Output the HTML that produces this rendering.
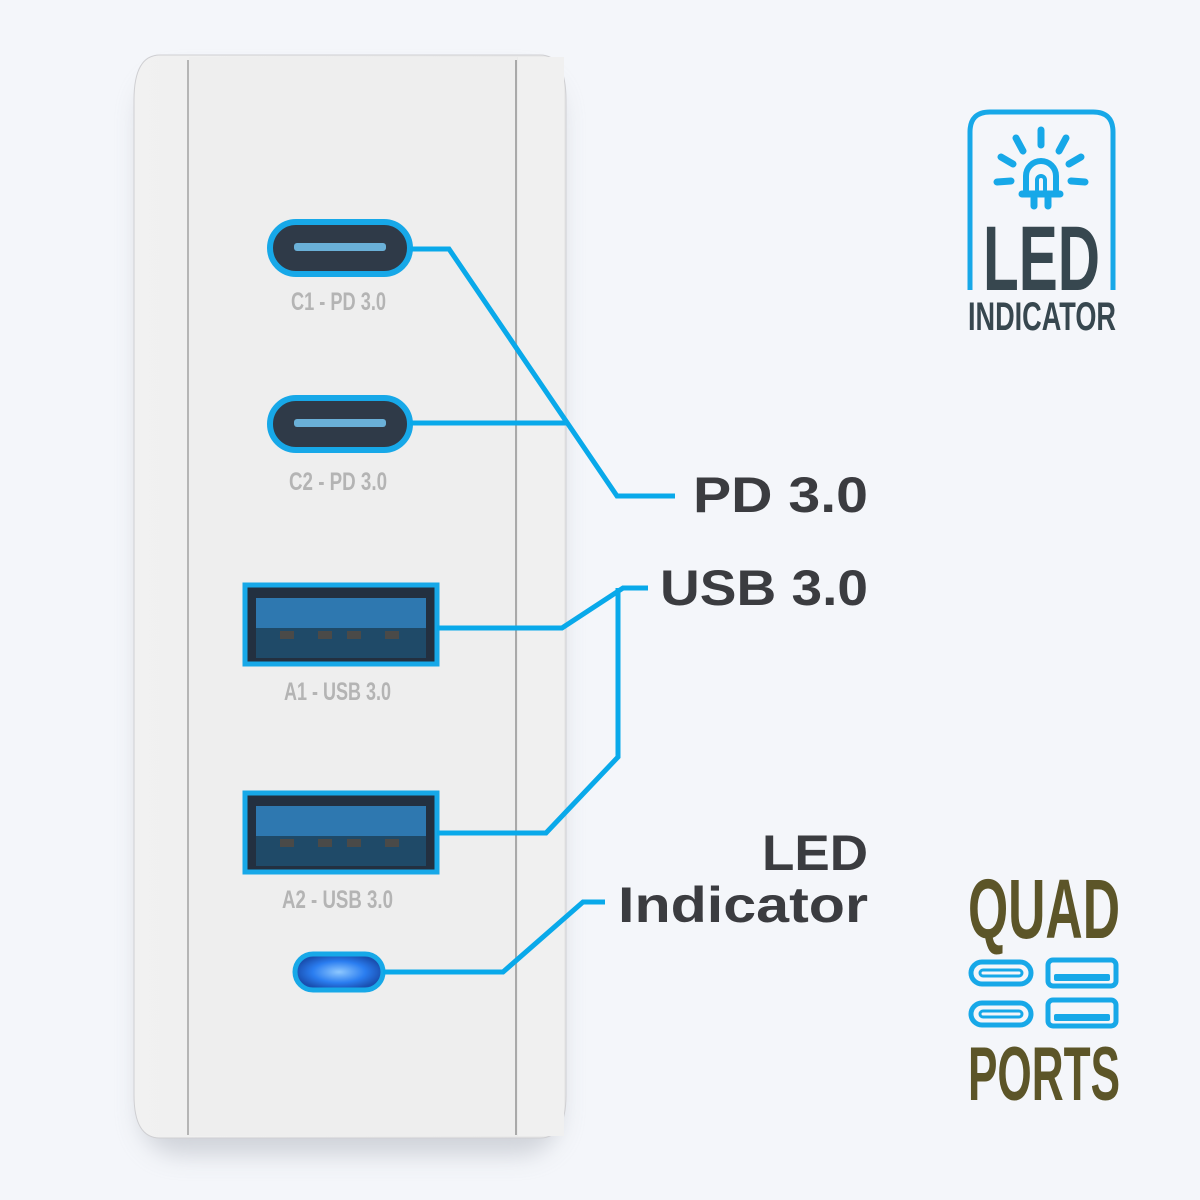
<!DOCTYPE html>
<html><head><meta charset="utf-8"><style>
html,body{margin:0;padding:0;background:#f4f6fa;}
svg{display:block}
.bold{font-family:"Liberation Sans",sans-serif;font-weight:bold;fill:#3b3c40}
.cond{font-family:"Liberation Sans",sans-serif;}
</style></head><body>
<svg width="1200" height="1200" viewBox="0 0 1200 1200" xmlns="http://www.w3.org/2000/svg">
<defs>
<filter id="sh" x="-20%" y="-10%" width="140%" height="125%"><feGaussianBlur stdDeviation="12"/></filter>
<linearGradient id="body" x1="0" x2="1"><stop offset="0" stop-color="#f1f1f1"/><stop offset="0.5" stop-color="#ededed"/><stop offset="1" stop-color="#e9e9e9"/></linearGradient>
<radialGradient id="glow"><stop offset="0" stop-color="#8ec8ff"/><stop offset="0.6" stop-color="#2a7df0"/><stop offset="1" stop-color="#1a4fb0"/></radialGradient>
</defs>
<rect width="1200" height="1200" fill="#f4f6fa"/>
<!-- device -->
<rect x="140" y="75" width="420" height="1080" rx="40" fill="#b8bcc4" opacity="0.6" filter="url(#sh)"/>
<path d="M160 55 H540 Q566 55 566 100 V1095 Q566 1138 540 1138 H160 Q134 1138 134 1095 V100 Q134 55 160 55 Z" fill="url(#body)" stroke="#cfcfd2" stroke-width="1"/>
<rect x="189" y="57" width="328" height="1079" fill="#eeeeee"/>
<line x1="188" y1="60" x2="188" y2="1135" stroke="#b5b5b5" stroke-width="2"/>
<line x1="516" y1="60" x2="516" y2="1135" stroke="#a9a9a9" stroke-width="2"/>
<rect x="518" y="57" width="46" height="1079" fill="#f0f0f0"/>

<!-- C ports -->
<g>
<rect x="270" y="222" width="140" height="52" rx="26" fill="#2f3a48" stroke="#17a8e8" stroke-width="6"/>
<rect x="294" y="243" width="92" height="8" rx="3" fill="#6ab0d8"/>
<rect x="270" y="398" width="140" height="52" rx="26" fill="#2f3a48" stroke="#17a8e8" stroke-width="6"/>
<rect x="294" y="419" width="92" height="8" rx="3" fill="#6ab0d8"/>
</g>
<g class="cond" fill="#b4b4b4" font-size="25" font-weight="bold">
<text x="291" y="310" textLength="95" lengthAdjust="spacingAndGlyphs">C1 - PD 3.0</text>
<text x="289" y="490" textLength="98" lengthAdjust="spacingAndGlyphs">C2 - PD 3.0</text>
<text x="284" y="700" textLength="107" lengthAdjust="spacingAndGlyphs">A1 - USB 3.0</text>
<text x="282" y="908" textLength="111" lengthAdjust="spacingAndGlyphs">A2 - USB 3.0</text>
</g>
<!-- A ports -->
<g>
<rect x="245" y="585" width="192" height="79" fill="#233040" stroke="#17a8e8" stroke-width="5"/>
<rect x="256" y="598" width="170" height="30" fill="#2e78b0"/>
<rect x="256" y="628" width="170" height="30" fill="#1f4a68"/>
<g fill="#4a4a48"><rect x="280" y="631" width="14" height="8"/><rect x="318" y="631" width="14" height="8"/><rect x="347" y="631" width="14" height="8"/><rect x="385" y="631" width="14" height="8"/></g>
<rect x="245" y="793" width="192" height="79" fill="#233040" stroke="#17a8e8" stroke-width="5"/>
<rect x="256" y="806" width="170" height="30" fill="#2e78b0"/>
<rect x="256" y="836" width="170" height="30" fill="#1f4a68"/>
<g fill="#4a4a48"><rect x="280" y="839" width="14" height="8"/><rect x="318" y="839" width="14" height="8"/><rect x="347" y="839" width="14" height="8"/><rect x="385" y="839" width="14" height="8"/></g>
</g>
<!-- LED -->
<rect x="295" y="954" width="88" height="36" rx="18" fill="url(#glow)" stroke="#17a8e8" stroke-width="5"/>

<!-- connectors -->
<g fill="none" stroke="#09a9ea" stroke-width="5" stroke-linejoin="miter">
<polyline points="410,249 449,249 617,496 675,496"/>
<polyline points="410,423 567,423"/>
<polyline points="437,628 562,628 623,588 648,588"/>
<polyline points="618,588 618,757 546,833 437,833"/>
<polyline points="383,972 503,972 583,902 605,902"/>
</g>

<!-- labels -->
<g class="bold" font-size="50">
<text x="693" y="512" textLength="175" lengthAdjust="spacingAndGlyphs">PD 3.0</text>
<text x="660" y="605" textLength="208" lengthAdjust="spacingAndGlyphs">USB 3.0</text>
<text x="762" y="870" textLength="106" lengthAdjust="spacingAndGlyphs">LED</text>
<text x="618" y="922" textLength="250" lengthAdjust="spacingAndGlyphs">Indicator</text>
</g>

<!-- LED indicator icon -->
<path d="M970 290 V132 Q970 112 990 112 H1093 Q1113 112 1113 132 V290" fill="none" stroke="#17a8e8" stroke-width="5"/>
<g stroke="#17a8e8" stroke-width="7" stroke-linecap="round" fill="none">
<line x1="1041" y1="130" x2="1041" y2="145"/>
<line x1="1016" y1="138" x2="1023" y2="151"/>
<line x1="1066" y1="138" x2="1059" y2="151"/>
<line x1="1001" y1="157" x2="1013" y2="164"/>
<line x1="1081" y1="157" x2="1069" y2="164"/>
<line x1="997" y1="182" x2="1011" y2="181"/>
<line x1="1085" y1="182" x2="1071" y2="181"/>
<path d="M1026 190 V176 A15 15 0 0 1 1056 176 V190" stroke-width="6"/>
<path d="M1037 190 V180 A4 4 0 0 1 1045 180 V190" stroke-width="4"/>
<line x1="1022" y1="194" x2="1060" y2="194"/>
<line x1="1034" y1="198" x2="1034" y2="206"/>
<line x1="1048" y1="198" x2="1048" y2="206"/>
</g>
<g class="cond" font-weight="bold" fill="#37474f">
<text x="983" y="290" font-size="92" textLength="117" lengthAdjust="spacingAndGlyphs">LED</text>
<text x="968" y="330" font-size="40" textLength="148" lengthAdjust="spacingAndGlyphs">INDICATOR</text>
</g>

<!-- QUAD PORTS -->
<g class="cond" font-weight="bold" fill="#5c5528">
<text x="968" y="938" font-size="84" textLength="152" lengthAdjust="spacingAndGlyphs">QUAD</text>
<text x="968" y="1100" font-size="76" textLength="152" lengthAdjust="spacingAndGlyphs">PORTS</text>
</g>
<g fill="none" stroke="#17a8e8">
<rect x="971" y="962" width="60" height="22" rx="11" stroke-width="5"/>
<rect x="980" y="970" width="42" height="6" rx="3" stroke-width="3"/>
<rect x="971" y="1003" width="60" height="22" rx="11" stroke-width="5"/>
<rect x="980" y="1011" width="42" height="6" rx="3" stroke-width="3"/>
<rect x="1048" y="960" width="68" height="26" rx="5" stroke-width="5"/>
<rect x="1048" y="1000" width="68" height="26" rx="5" stroke-width="5"/>
</g>
<g fill="#17a8e8">
<rect x="1054" y="974" width="56" height="7" rx="2"/>
<rect x="1054" y="1014" width="56" height="7" rx="2"/>
</g>
</svg>
</body></html>
